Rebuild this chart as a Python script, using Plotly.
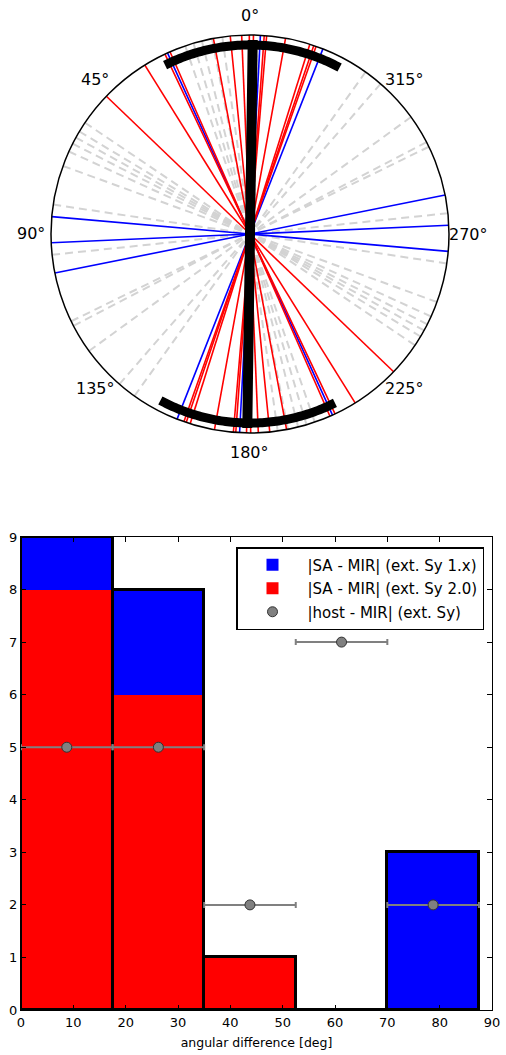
import numpy as np
import plotly.graph_objects as go

# ---------------- data ----------------
# polar panel: position angles (deg, 0 = up, counter-clockwise)
MIR_SY1_PA = [24.5, 338.5, 357.0, 85.0, 92.5, 101.3]          # blue
MIR_SY2_PA = [340.6, 341.3, 342.5, 349.7, 355.2, 355.9, 359.0, 0.2,
              2.4, 5.7, 10.6, 23.7, 25.3, 31.9, 46.2]          # red
HOST_PA = [8, 11, 14, 16.5, 19, 56, 59, 61, 63, 65.5, 70, 81.5,
           96, 116, 117.5, 126, 139, 144.5]                    # gray dashed
SA_PA = -0.8
SA_ERR = 27.5

# histogram panel
BIN_EDGES = [0, 17.5, 35, 52.5, 70, 87.5]
COUNT_SY2 = [8, 6, 1, 0, 0]      # red
COUNT_SY1 = [1, 2, 0, 0, 3]      # blue (stacked on red)
COUNT_HOST = [5, 5, 2, 7, 2]     # gray points

ANG_TICKS = [0, 45, 90, 135, 180, 225, 270, 315]
X_TICKS = [0, 10, 20, 30, 40, 50, 60, 70, 80, 90]
Y_TICKS = [0, 1, 2, 3, 4, 5, 6, 7, 8, 9]

FONT = "DejaVu Sans"
W, H = 506, 1055

fig = go.Figure()

# ---------------- polar ----------------
def diameter(pa, color, width, dash="solid"):
    fig.add_trace(go.Scatterpolar(
        r=[1, 0, 1], theta=[pa, pa, pa + 180], mode="lines",
        line=dict(color=color, width=width, dash=dash),
        showlegend=False, hoverinfo="skip", subplot="polar"))

for pa in HOST_PA:
    diameter(pa, "#d3d3d3", 2, "8px,5px")
for pa in MIR_SY1_PA:
    diameter(pa, "#0000ff", 1.6)
for pa in MIR_SY2_PA:
    diameter(pa, "#ff0000", 1.6)

# SA: thick line + uncertainty arcs
fig.add_trace(go.Scatterpolar(
    r=[0.975, 0, 0.975], theta=[SA_PA, SA_PA, SA_PA + 180], mode="lines",
    line=dict(color="black", width=10), showlegend=False,
    hoverinfo="skip", subplot="polar"))
for off in (0, 180):
    th = np.linspace(SA_PA - SA_ERR, SA_PA + SA_ERR, 80) + off
    fig.add_trace(go.Scatterpolar(
        r=np.full(th.size, 0.95), theta=th, mode="lines",
        line=dict(color="black", width=9), showlegend=False,
        hoverinfo="skip", subplot="polar"))

# ---------------- histogram ----------------
edges = np.array(BIN_EDGES, dtype=float)
centers = (edges[:-1] + edges[1:]) / 2
widths = np.diff(edges)
red = np.array(COUNT_SY2)
blue = np.array(COUNT_SY1)
total = red + blue

fig.add_trace(go.Bar(
    x=centers, y=blue, base=red, width=widths,
    marker=dict(color="#0000ff", line=dict(width=0)),
    name="|SA - MIR| (ext. Sy 1.x)", legendgroup="a",
    xaxis="x", yaxis="y"))
fig.add_trace(go.Bar(
    x=centers, y=red, base=np.zeros_like(red), width=widths,
    marker=dict(color="#ff0000", line=dict(width=0)),
    name="|SA - MIR| (ext. Sy 2.0)", legendgroup="b",
    xaxis="x", yaxis="y"))
fig.add_trace(go.Bar(
    x=centers, y=total, base=np.zeros_like(total), width=widths,
    marker=dict(color="rgba(0,0,0,0)", line=dict(color="black", width=3)),
    showlegend=False, hoverinfo="skip", xaxis="x", yaxis="y"))
fig.add_trace(go.Scatter(
    x=centers, y=COUNT_HOST, mode="markers",
    marker=dict(color="#808080", size=10, line=dict(color="#333333", width=1)),
    error_x=dict(type="data", array=widths / 2, color="#808080",
                 thickness=2, width=3),
    name="|host - MIR| (ext. Sy)", legendgroup="c",
    xaxis="x", yaxis="y"))

# ---------------- layout ----------------
PX0, PX1, PY0, PY1 = 51, 449, 35, 433
cxp, cyp = (PX0 + PX1) / 2, (PY0 + PY1) / 2
Rp = (PX1 - PX0) / 2
annotations = []
for t in ANG_TICKS:
    a = np.deg2rad(t)
    xp = cxp - 1.1 * Rp * np.sin(a)
    yp = cyp - 1.1 * Rp * np.cos(a)
    annotations.append(dict(
        x=xp / W, y=1 - yp / H, xref="paper", yref="paper",
        text=f"{t}°", showarrow=False, xanchor="center", yanchor="middle",
        font=dict(size=16, family=FONT, color="black")))

fig.update_layout(
    width=W, height=H,
    margin=dict(l=0, r=0, t=0, b=0),
    paper_bgcolor="white", plot_bgcolor="white",
    font=dict(family=FONT, color="black"),
    barmode="overlay", bargap=0,
    annotations=annotations,
    polar=dict(
        domain=dict(x=[PX0 / W, PX1 / W], y=[1 - PY1 / H, 1 - PY0 / H]),
        bgcolor="white",
        angularaxis=dict(rotation=90, direction="counterclockwise",
                         tickmode="array", tickvals=ANG_TICKS,
                         showticklabels=False,
                         showgrid=False, ticks="", showline=True,
                         linecolor="black", linewidth=1.5),
        radialaxis=dict(range=[0, 1], visible=False, showgrid=False),
    ),
    xaxis=dict(domain=[21 / W, 492 / W], anchor="y", range=[0, 90],
               tickmode="array", tickvals=X_TICKS, ticks="inside",
               ticklen=5, tickcolor="black", mirror="allticks",
               showline=True, linecolor="black", linewidth=1,
               showgrid=False, zeroline=False, automargin=False,
               tickfont=dict(size=13, family=FONT, color="black"),
               title=dict(text="angular difference [deg]", standoff=9,
                          font=dict(size=12.5, family=FONT, color="black"))),
    yaxis=dict(domain=[1 - 1010 / H, 1 - 537 / H], anchor="x", range=[0, 9],
               tickmode="array", tickvals=Y_TICKS, ticks="inside",
               ticklen=5, tickcolor="black", mirror="allticks",
               showline=True, linecolor="black", linewidth=1,
               showgrid=False, zeroline=False, automargin=False,
               tickfont=dict(size=13, family=FONT, color="black")),
    legend=dict(x=484 / W, xanchor="right", y=1 - 547 / H, yanchor="top",
                bgcolor="white", bordercolor="black", borderwidth=1.5,
                font=dict(size=15, family=FONT, color="black"),
                itemwidth=60, traceorder="grouped", tracegroupgap=1),
)

fig.write_html("out.html")
